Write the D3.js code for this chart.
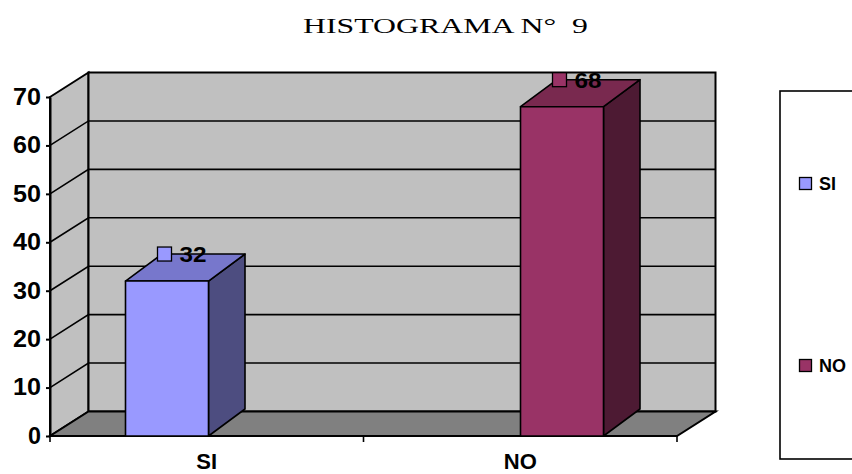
<!DOCTYPE html>
<html>
<head>
<meta charset="utf-8">
<script src="https://cdn.jsdelivr.net/npm/d3@7"></script>
<style>
  html, body { margin: 0; padding: 0; background: #fff; }
  svg { display: block; }
</style>
</head>
<body>
<svg id="chart" width="852" height="474"></svg>
<script>
// Data
const title = "HISTOGRAMA N°\u00a0\u00a09";
const categories = ["SI", "NO"];
const values = [32, 68];
const yTicks = [0, 10, 20, 30, 40, 50, 60, 70];
const frontColors = ["#9999FF", "#993366"];
const topColors = ["#7777CC", "#79294F"];
const sideColors = ["#4D4D80", "#4D1A33"];

const svg = d3.select("#chart");
const FONT = "'Liberation Sans', Arial, sans-serif";

// Oblique 3D geometry
const depth = { dx: 38.5, dy: -24.5 };   // wall / floor depth
const barDepth = { dx: 36.5, dy: -27 };  // bar depth

const y = d3.scaleLinear().domain([0, 70]).range([436, 97]);
const xAxisScale = d3.scaleBand().domain(categories).range([50, 677]);
const xBar = d3.scalePoint().domain(categories).range([167, 562]);
const barW = 83;

const x0 = 50, x1 = 677;
const line = d3.line();

// Side (left) wall
svg.append("path")
  .attr("d", line([[x0, y(70)], [x0 + depth.dx, y(70) + depth.dy], [x0 + depth.dx, y(0) + depth.dy], [x0, y(0)]]) + "Z")
  .attr("fill", "#C0C0C0").attr("stroke", "#000").attr("stroke-width", 2);

// Back wall
svg.append("rect")
  .attr("x", x0 + depth.dx).attr("y", y(70) + depth.dy)
  .attr("width", x1 - x0).attr("height", y(0) - y(70))
  .attr("fill", "#C0C0C0").attr("stroke", "#000").attr("stroke-width", 2);

// Floor
svg.append("path")
  .attr("d", line([[x0, y(0)], [x1, y(0)], [x1 + depth.dx, y(0) + depth.dy], [x0 + depth.dx, y(0) + depth.dy]]) + "Z")
  .attr("fill", "#808080").attr("stroke", "#000").attr("stroke-width", 2);

// Gridlines on side and back walls
const grid = svg.append("g").attr("stroke", "#000").attr("stroke-width", 1.6).attr("fill", "none");
yTicks.filter(v => v > 0 && v < 70).forEach(v => {
  grid.append("path").attr("d", line([
    [x0, y(v)],
    [x0 + depth.dx, y(v) + depth.dy],
    [x1 + depth.dx, y(v) + depth.dy]
  ]));
});

// Value axis
const yAxis = d3.axisLeft(y).tickValues(yTicks).tickSize(4).tickPadding(5).tickSizeOuter(0);
const gy = svg.append("g").attr("transform", `translate(${x0},0)`).call(yAxis);
gy.selectAll("path, line").attr("stroke", "#000").attr("stroke-width", 2);
gy.selectAll("text")
  .attr("font-family", FONT).attr("font-size", 23).attr("font-weight", "bold").attr("fill", "#000")
  .attr("textLength", 28).attr("lengthAdjust", "spacingAndGlyphs")
  .filter(d => d < 10).attr("textLength", 13);

// Category axis
const gx = svg.append("g").attr("transform", `translate(0,${y(0)})`);
gx.append("line").attr("x1", x0).attr("x2", x1).attr("stroke", "#000").attr("stroke-width", 2);
const bounds = [x0, ...categories.slice(1).map(c => xAxisScale(c)), x1];
bounds.forEach(b => {
  gx.append("line").attr("x1", b).attr("x2", b).attr("y1", 0).attr("y2", 6)
    .attr("stroke", "#000").attr("stroke-width", 1.6);
});
categories.forEach(c => {
  gx.append("text")
    .attr("x", xAxisScale(c) + xAxisScale.bandwidth() / 2).attr("y", 33)
    .attr("text-anchor", "middle")
    .attr("font-family", FONT).attr("font-size", 22).attr("font-weight", "bold")
    .text(c);
});

// 3D bars
const bars = svg.append("g");
categories.forEach((c, i) => {
  const v = values[i];
  const L = xBar(c) - barW / 2, R = L + barW;
  const T = y(v), B = y(0);
  const g = bars.append("g").attr("stroke", "#000").attr("stroke-width", 1.6).attr("stroke-linejoin", "round");
  // side face
  g.append("path").attr("fill", sideColors[i]).attr("d", line([
    [R, T], [R + barDepth.dx, T + barDepth.dy], [R + barDepth.dx, B + barDepth.dy], [R, B]
  ]) + "Z");
  // top face
  g.append("path").attr("fill", topColors[i]).attr("d", line([
    [L, T], [L + barDepth.dx, T + barDepth.dy], [R + barDepth.dx, T + barDepth.dy], [R, T]
  ]) + "Z");
  // front face
  g.append("rect").attr("fill", frontColors[i])
    .attr("x", L).attr("y", T).attr("width", barW).attr("height", B - T);

  // value label: key square + number
  const cx = L + 39, cy = T + barDepth.dy;
  svg.append("rect")
    .attr("x", cx - 7).attr("y", cy - 7).attr("width", 14).attr("height", 14)
    .attr("fill", frontColors[i]).attr("stroke", "#000").attr("stroke-width", 1.3);
  svg.append("text")
    .attr("x", cx + 15).attr("y", cy + 8)
    .attr("font-family", FONT).attr("font-size", 22).attr("font-weight", "bold").attr("fill", "#000")
    .attr("textLength", 27).attr("lengthAdjust", "spacingAndGlyphs")
    .text(v);
});

// Title
svg.append("text")
  .attr("x", 303).attr("y", 33)
  .attr("font-family", "'Liberation Serif', 'Times New Roman', serif").attr("font-size", 22)
  .attr("fill", "#000")
  .attr("textLength", 285).attr("lengthAdjust", "spacingAndGlyphs")
  .text(title);

// Legend
svg.append("rect")
  .attr("x", 780).attr("y", 91).attr("width", 100).attr("height", 368)
  .attr("fill", "#fff").attr("stroke", "#000").attr("stroke-width", 1.6);
const legendY = d3.scalePoint().domain(categories).range([183.5, 365.5]);
categories.forEach((c, i) => {
  svg.append("rect")
    .attr("x", 799.5).attr("y", legendY(c) - 6).attr("width", 12).attr("height", 12)
    .attr("fill", frontColors[i]).attr("stroke", "#000").attr("stroke-width", 1.3);
  svg.append("text")
    .attr("x", 819).attr("y", legendY(c) + 6.5)
    .attr("font-family", FONT).attr("font-size", 18).attr("font-weight", "bold")
    .text(c);
});
</script>
</body>
</html>
